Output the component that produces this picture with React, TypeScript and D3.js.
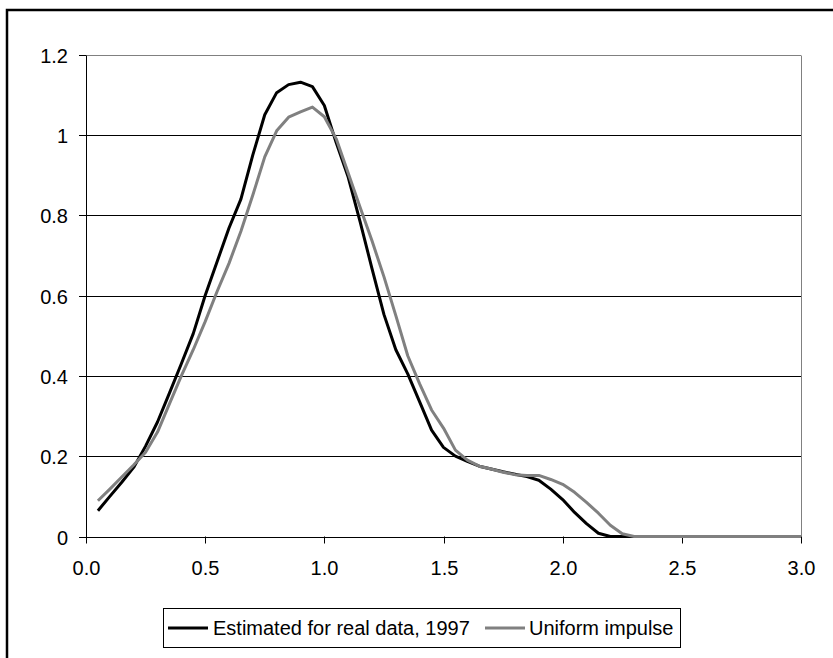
import React from "react";
import * as d3 from "d3";

const xValues = [
  0.05, 0.1, 0.15, 0.2, 0.25, 0.3, 0.35, 0.4, 0.45, 0.5,
  0.55, 0.6, 0.65, 0.7, 0.75, 0.8, 0.85, 0.9, 0.95, 1.0,
  1.05, 1.1, 1.15, 1.2, 1.25, 1.3, 1.35, 1.4, 1.45, 1.5,
  1.55, 1.6, 1.65, 1.7, 1.75, 1.8, 1.85, 1.9, 1.95, 2.0,
  2.05, 2.1, 2.15, 2.2, 2.25, 2.3, 2.35, 2.4, 2.45, 2.5,
  2.55, 2.6, 2.65, 2.7, 2.75, 2.8, 2.85, 2.9, 2.95, 3.0,
];

const estimatedReal = [
  0.064, 0.1, 0.135, 0.172, 0.225, 0.285, 0.357, 0.43, 0.505, 0.6,
  0.684, 0.768, 0.84, 0.95, 1.05, 1.105, 1.125, 1.131, 1.12, 1.073,
  0.98, 0.895, 0.784, 0.667, 0.553, 0.465, 0.405, 0.335, 0.265, 0.222,
  0.2, 0.187, 0.175, 0.168, 0.161, 0.155, 0.149, 0.14, 0.118, 0.092,
  0.06, 0.032, 0.008, 0, 0, 0, 0, 0, 0, 0,
  0, 0, 0, 0, 0, 0, 0, 0, 0, 0,
];

const uniformImpulse = [
  0.089, 0.118, 0.148, 0.178, 0.21, 0.26, 0.33, 0.4, 0.465, 0.535,
  0.61, 0.68, 0.76, 0.85, 0.945, 1.01, 1.044, 1.057, 1.069, 1.045,
  0.99, 0.905, 0.82, 0.736, 0.647, 0.55, 0.45, 0.38, 0.315, 0.27,
  0.215, 0.19, 0.175, 0.168, 0.16, 0.154, 0.152, 0.152, 0.142, 0.13,
  0.11, 0.085, 0.058, 0.028, 0.007, 0, 0, 0, 0, 0,
  0, 0, 0, 0, 0, 0, 0, 0, 0, 0,
];

const xTicks = [0, 0.5, 1.0, 1.5, 2.0, 2.5, 3.0];
const yTicks = [0, 0.2, 0.4, 0.6, 0.8, 1.0, 1.2];

const seriesNames = ["Estimated for real data, 1997", "Uniform impulse"];

export default function App() {
  const W = 833;
  const H = 658;
  const left = 86;
  const right = 801;
  const top = 54.5;
  const bottom = 536.5;
  const font = "'Liberation Sans', Arial, sans-serif";

  const x = d3.scaleLinear().domain([0, 3]).range([left, right]);
  const y = d3.scaleLinear().domain([0, 1.2]).range([bottom, top]);

  const line = d3
    .line<number>()
    .x((_, i) => x(xValues[i]))
    .y((d) => y(d));

  return (
    <svg
      width={W}
      height={H}
      style={{ position: "absolute", left: 0, top: 0, background: "#fff" }}
      fontFamily={font}
    >
      <rect x={0} y={0} width={W} height={H} fill="#fff" />
      {/* outer frame */}
      <rect x={7} y={10} width={900} height={900} fill="none" stroke="#000" strokeWidth={2.5} />

      {/* gridlines */}
      {yTicks.slice(1, -1).map((t) => (
        <line key={t} x1={left} x2={right} y1={Math.round(y(t)) + 0.5} y2={Math.round(y(t)) + 0.5} stroke="#000" strokeWidth={1} />
      ))}
      {/* plot border top & right */}
      <line x1={left} x2={right} y1={Math.round(y(1.2)) + 0.5} y2={Math.round(y(1.2)) + 0.5} stroke="#808080" strokeWidth={1} />
      <line x1={Math.round(right) + 0.5} x2={Math.round(right) + 0.5} y1={Math.round(y(1.2)) + 0.5} y2={bottom} stroke="#808080" strokeWidth={1} />

      {/* axes */}
      <line x1={left + 0.5} x2={left + 0.5} y1={Math.round(y(1.2)) + 0.5} y2={bottom + 0.5} stroke="#000" strokeWidth={1} />
      <line x1={left} x2={right + 1} y1={Math.round(bottom) + 0.5} y2={Math.round(bottom) + 0.5} stroke="#000" strokeWidth={1} />

      {/* y ticks and labels */}
      {yTicks.map((t) => {
        const yy = Math.round(y(t)) + 0.5;
        return (
          <g key={"y" + t}>
            <line x1={left - 7} x2={left} y1={yy} y2={yy} stroke="#000" strokeWidth={1} />
            <text x={68} y={yy} dy="0.35em" textAnchor="end" fontSize={20} fill="#000">
              {t === 0 ? "0" : t === 1 ? "1" : t.toFixed(1)}
            </text>
          </g>
        );
      })}

      {/* x ticks and labels */}
      {xTicks.map((t) => {
        const xx = Math.round(x(t)) + 0.5;
        return (
          <g key={"x" + t}>
            <line x1={xx} x2={xx} y1={bottom} y2={bottom + 7} stroke="#000" strokeWidth={1} />
            <text x={xx} y={568} dy="0.35em" textAnchor="middle" fontSize={20} fill="#000">
              {t.toFixed(1)}
            </text>
          </g>
        );
      })}

      {/* series */}
      <path d={line(estimatedReal) || ""} fill="none" stroke="#000" strokeWidth={3} strokeLinejoin="round" />
      <path d={line(uniformImpulse) || ""} fill="none" stroke="#808080" strokeWidth={3} strokeLinejoin="round" />

      {/* legend */}
      <rect x={163.5} y={608.5} width={517} height={39} fill="#fff" stroke="#000" strokeWidth={1} />
      <line x1={168} x2={208} y1={628} y2={628} stroke="#000" strokeWidth={3} />
      <text x={213} y={628} dy="0.35em" fontSize={20} fill="#000">{seriesNames[0]}</text>
      <line x1={485} x2={525} y1={628} y2={628} stroke="#808080" strokeWidth={3} />
      <text x={529} y={628} dy="0.35em" fontSize={20} fill="#000">{seriesNames[1]}</text>
    </svg>
  );
}
